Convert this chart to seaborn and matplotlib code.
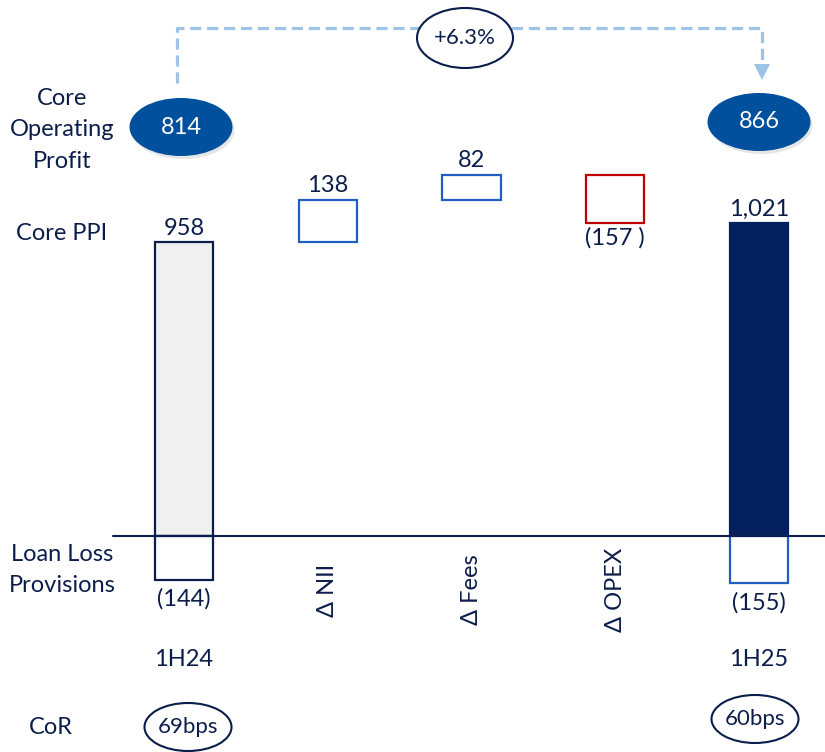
import matplotlib
matplotlib.use("Agg")
import matplotlib.pyplot as plt
import matplotlib.transforms as mtransforms
from matplotlib.patches import Ellipse, Polygon
import seaborn as sns
import pandas as pd

# data
categories = ["1H24", "Δ NII", "Δ Fees", "Δ OPEX", "1H25"]
core_ppi = [958, 138, 82, -157, 1021]
core_ppi_labels = ["958", "138", "82", "(157 )", "1,021"]
llp_categories = ["1H24", "1H25"]
llp = [-144, -155]
llp_labels = ["(144)", "(155)"]
core_op_profit = ["814", "866"]
cor_labels = ["69bps", "60bps"]
growth_label = "+6.3%"

NAVY = "#0b1d4a"
DARK_BAR = "#03205c"
BLUE = "#1f5fbf"
RED = "#c00000"
OVAL = "#00509e"
DASH = "#9dc3e6"

sns.set_theme(style="white")
plt.rcParams["font.family"] = ["Lato", "DejaVu Sans"]
FS = 17

# waterfall: totals start at zero, deltas float on the running total
bottoms, heights = [], []
running = 0
for i, v in enumerate(core_ppi):
    if i == 0 or i == len(core_ppi) - 1:
        bottoms.append(0)
        heights.append(v)
        running = v
    else:
        bottoms.append(running + min(v, 0))
        heights.append(abs(v))
        running += v

df = pd.DataFrame({"cat": categories, "h": heights})
df_llp = pd.DataFrame({"cat": llp_categories, "h": llp})

fig = plt.figure(figsize=(8.25, 7.52), dpi=100)
ax = fig.add_axes([0, 0, 1, 1])

sns.barplot(data=df, x="cat", y="h", order=categories, bottom=bottoms,
            width=0.405, ax=ax, color="white", linewidth=1.6)
sns.barplot(data=df_llp, x="cat", y="h", order=categories,
            width=0.405, ax=ax, color="white", linewidth=1.6)

faces = ["#f0f0f0", "white", "white", "white", DARK_BAR, "white", "white"]
edges = [NAVY, BLUE, BLUE, RED, DARK_BAR, NAVY, BLUE]
for p, fc, ec in zip(ax.patches, faces, edges):
    p.set_facecolor(fc)
    p.set_edgecolor(ec)
    p.set_linewidth(1.6)

ax.set_xlim(-1.279, 4.459)
ax.set_ylim(-706, 1749)
ax.axhline(0, xmin=0.137, xmax=1, color=NAVY, lw=1.5, zorder=5)
ax.axis("off")

# value labels
for i, lab in enumerate(core_ppi_labels):
    if core_ppi[i] >= 0:
        ax.annotate(lab, (i, bottoms[i] + heights[i]), xytext=(0, 5.5),
                    textcoords="offset points", ha="center", va="baseline",
                    fontsize=FS, color=NAVY)
    else:
        ax.annotate(lab, (i, bottoms[i]), xytext=(0, -11),
                    textcoords="offset points", ha="center", va="center",
                    fontsize=FS, color=NAVY)
for cat, v, lab in zip(llp_categories, llp, llp_labels):
    ax.annotate(lab, (categories.index(cat), v), xytext=(0, -14),
                textcoords="offset points", ha="center", va="center",
                fontsize=FS, color=NAVY)

# overlay in pixel coordinates for the annotations around the chart
ov = fig.add_axes([0, 0, 1, 1], facecolor="none")
ov.set_xlim(0, 825)
ov.set_ylim(752, 0)
ov.axis("off")
blend = mtransforms.blended_transform_factory(ax.transData, ov.transData)

# category names
for i, cat in enumerate(categories):
    if cat.startswith("Δ"):
        ov.text(i, 590, cat, transform=blend, rotation=90, ha="center",
                va="center", fontsize=FS, color=NAVY)
    else:
        ov.text(i, 660, cat, transform=blend, ha="center", va="center",
                fontsize=FS, color=NAVY)

# row labels
ov.text(62, 130, "Core\nOperating\nProfit", ha="center", va="center",
        fontsize=FS, color=NAVY, linespacing=1.62)
ov.text(62, 234, "Core PPI", ha="center", va="center", fontsize=FS, color=NAVY)
ov.text(62, 570, "Loan Loss\nProvisions", ha="center", va="center",
        fontsize=FS, color=NAVY, linespacing=1.6)
ov.text(51, 727, "CoR", ha="center", va="center", fontsize=FS, color=NAVY)

# core operating profit ovals
for (cx, cy), lab in zip([(181, 127), (759, 122)], core_op_profit):
    ov.add_patch(Ellipse((cx + 2, cy + 3), 103, 58, color="#b8b8b8", alpha=0.35, lw=0))
    ov.add_patch(Ellipse((cx, cy), 103, 58, color=OVAL, lw=0))
    ov.text(cx, cy, lab, ha="center", va="center", fontsize=FS, color="white")

# CoR ovals
for (cx, cy), lab in zip([(188, 727), (755, 719)], cor_labels):
    ov.add_patch(Ellipse((cx, cy), 87, 48, facecolor="white", edgecolor=NAVY, lw=1.5))
    ov.text(cx, cy, lab, ha="center", va="center", fontsize=FS - 1, color=NAVY)

# dashed growth connector
ov.plot([177, 177, 762, 762], [83, 27.5, 27.5, 64], color=DASH, lw=2.3,
        dashes=(3.5, 1.8), solid_capstyle="butt")
ov.add_patch(Polygon([(754, 64), (770, 64), (762, 80)], closed=True, color=DASH, lw=0))
ov.add_patch(Ellipse((465, 38), 96, 60, facecolor="white", edgecolor=NAVY, lw=1.5, zorder=3))
ov.text(465, 38, growth_label, ha="center", va="center", fontsize=FS - 1,
        color=NAVY, zorder=4)

fig.savefig("out.png", dpi=100)
